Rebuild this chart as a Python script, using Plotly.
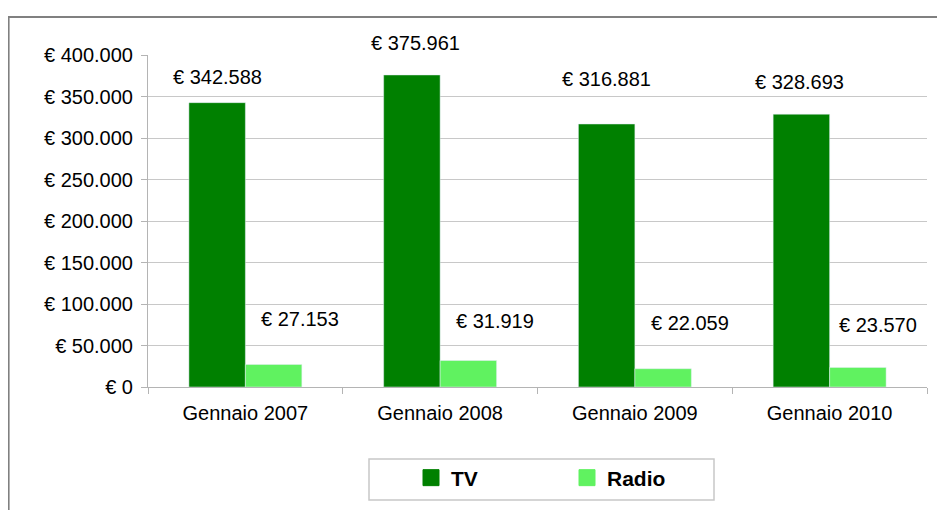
import plotly.graph_objects as go

categories = ["Gennaio 2007", "Gennaio 2008", "Gennaio 2009", "Gennaio 2010"]
tv_values = [342588, 375961, 316881, 328693]
radio_values = [27153, 31919, 22059, 23570]
tv_labels = ["€ 342.588", "€ 375.961", "€ 316.881", "€ 328.693"]
radio_labels = ["€ 27.153", "€ 31.919", "€ 22.059", "€ 23.570"]
y_tick_values = [0, 50000, 100000, 150000, 200000, 250000, 300000, 350000, 400000]
y_tick_labels = ["€ 0", "€ 50.000", "€ 100.000", "€ 150.000", "€ 200.000",
                 "€ 250.000", "€ 300.000", "€ 350.000", "€ 400.000"]

# label offsets (pixels) relative to the top of each bar
tv_label_dx = [-28, -25, -28, -30]
tv_label_dy = [26, 32, 45, 32]
radio_label_dx = [55, 55, 55, 48]
radio_label_dy = [45, 40, 46, 42]

TV_COLOR = "#008000"
RADIO_COLOR = "#60F260"
FONT = "Liberation Sans, Arial, sans-serif"

OFF = 8  # page body margin
W, H = 945 - OFF, 510 - OFF
L, T = 148 - OFF, 55 - OFF
B = H - (387 - OFF)
R = W - (927 - OFF)
pw, ph = W - L - R, H - T - B

def px_x(x):  # screen px -> paper
    return (x - OFF - L) / pw

def px_y(y):
    return (H - B - (y - OFF)) / ph

fig = go.Figure()
fig.add_trace(go.Bar(x=categories, y=tv_values, name="TV", marker_color=TV_COLOR,
                     showlegend=False))
fig.add_trace(go.Bar(x=categories, y=radio_values, name="Radio", marker_color=RADIO_COLOR,
                     showlegend=False))
# legend entries with larger square swatches
fig.add_trace(go.Scatter(x=[None], y=[None], mode="markers", name="TV",
                         marker=dict(symbol="square", size=16, color=TV_COLOR,
                                     line=dict(color=TV_COLOR, width=1))))
fig.add_trace(go.Scatter(x=[None], y=[None], mode="markers", name="Radio",
                         marker=dict(symbol="square", size=16, color=RADIO_COLOR,
                                     line=dict(color=RADIO_COLOR, width=1))))

annotations = []
for i, c in enumerate(categories):
    annotations.append(dict(x=c, y=tv_values[i], text=tv_labels[i], showarrow=False,
                            xshift=tv_label_dx[i], yshift=tv_label_dy[i],
                            font=dict(family=FONT, size=20, color="#000000")))
    annotations.append(dict(x=c, y=radio_values[i], text=radio_labels[i], showarrow=False,
                            xshift=radio_label_dx[i], yshift=radio_label_dy[i],
                            font=dict(family=FONT, size=20, color="#000000")))

shapes = [
    # outer frame
    dict(type="rect", xref="paper", yref="paper",
         x0=px_x(OFF + 0.6), x1=px_x(960), y0=px_y(530), y1=px_y(17),
         line=dict(color="#808080", width=2), fillcolor="rgba(0,0,0,0)", layer="below"),
    # legend box
    dict(type="rect", xref="paper", yref="paper",
         x0=px_x(369), x1=px_x(714), y0=px_y(500), y1=px_y(459),
         line=dict(color="#c8c8c8", width=1.5), fillcolor="rgba(0,0,0,0)"),
]

fig.update_layout(
    width=W, height=H,
    margin=dict(l=L, r=R, t=T, b=B),
    paper_bgcolor="white", plot_bgcolor="white",
    barmode="group", bargap=0.42, bargroupgap=0,
    font=dict(family=FONT, size=20, color="#000000"),
    annotations=annotations,
    shapes=shapes,
    showlegend=True,
    legend=dict(orientation="h", x=px_x(411), y=px_y(478), xanchor="left", yanchor="middle",
                font=dict(family=FONT, size=21, color="#000000", weight="bold"),
                entrywidth=111, entrywidthmode="pixels", itemwidth=30,
                bgcolor="rgba(0,0,0,0)", borderwidth=0),
    xaxis=dict(showline=True, linecolor="#b4b4b4", linewidth=1,
               ticks="outside", tickson="boundaries", ticklen=6, tickcolor="#b4b4b4",
               ticklabelstandoff=8, showgrid=False,
               tickfont=dict(family=FONT, size=20, color="#000000")),
    yaxis=dict(range=[0, 400000], tickvals=y_tick_values, ticktext=y_tick_labels,
               showline=True, linecolor="#b4b4b4", linewidth=1,
               ticks="outside", ticklen=6, tickcolor="#b4b4b4",
               showgrid=True, gridcolor="#c8c8c8", gridwidth=1, zeroline=False,
               ticklabelstandoff=4,
               tickfont=dict(family=FONT, size=20, color="#000000")),
)

fig.write_html("out.html")
